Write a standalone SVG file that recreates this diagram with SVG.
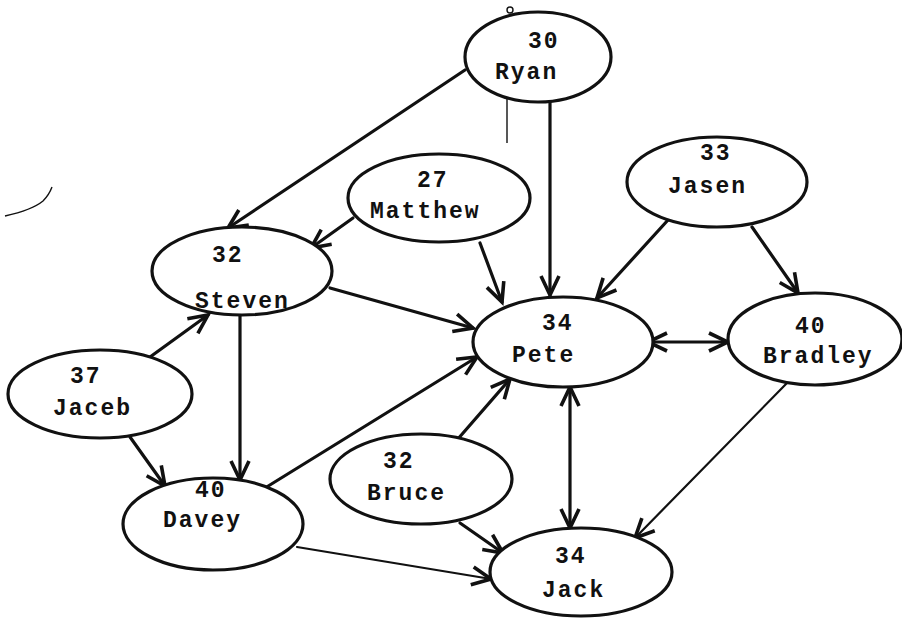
<svg xmlns="http://www.w3.org/2000/svg" width="902" height="620" viewBox="0 0 902 620">
  <style>
    .node ellipse { fill: #fff; stroke: #111; stroke-width: 3.2; }
    .node text { font-family: "Liberation Mono", "DejaVu Sans Mono", monospace; font-weight: bold; font-size: 23px; letter-spacing: 2px; fill: #111; }
    .edge { fill: none; stroke: #111; stroke-width: 3.2; stroke-linecap: round; }
    .thin { stroke-width: 2.2; }
    .mark { fill: none; stroke: #111; stroke-width: 1.4; }
  </style>
  <defs>
    <marker id="arrow" viewBox="-3 -12 26 24" refX="19" refY="0" markerWidth="26" markerHeight="24" markerUnits="userSpaceOnUse" orient="auto-start-reverse">
      <path d="M0,-9 L19,0 L0,9" fill="none" stroke="#111" stroke-width="3.6" stroke-linejoin="miter"/>
    </marker>
  </defs>
  <rect width="902" height="620" fill="#fff"/>

  <!-- stray pen marks -->
  <path class="mark" d="M5,216 Q32,210 43,201 Q49,195 52,187"/>
  <line class="mark" x1="507" y1="83" x2="507" y2="143" stroke-width="1"/>
  <circle class="mark" cx="510" cy="10" r="3"/>

  <!-- connectors -->
  <g id="edges">
    <line class="edge" x1="465" y1="70" x2="228" y2="228" marker-end="url(#arrow)"/>
    <line class="edge" x1="550" y1="102" x2="550" y2="295" marker-end="url(#arrow)"/>
    <line class="edge" x1="353" y1="218" x2="311" y2="248" marker-end="url(#arrow)"/>
    <line class="edge" x1="480" y1="243" x2="502" y2="302" marker-end="url(#arrow)"/>
    <line class="edge" x1="330" y1="288" x2="473" y2="328" marker-end="url(#arrow)"/>
    <line class="edge" x1="240" y1="315" x2="240" y2="480" marker-end="url(#arrow)"/>
    <line class="edge" x1="150" y1="357" x2="208" y2="315" marker-end="url(#arrow)"/>
    <line class="edge" x1="130" y1="437" x2="165" y2="486" marker-end="url(#arrow)"/>
    <line class="edge" x1="265" y1="488" x2="477" y2="357" marker-end="url(#arrow)"/>
    <line class="edge thin" x1="297" y1="547" x2="491" y2="579" marker-end="url(#arrow)"/>
    <line class="edge" x1="457" y1="440" x2="510" y2="379" marker-end="url(#arrow)"/>
    <line class="edge" x1="460" y1="523" x2="503" y2="553" marker-end="url(#arrow)"/>
    <line class="edge" x1="648" y1="342" x2="728" y2="342" marker-start="url(#arrow)" marker-end="url(#arrow)"/>
    <line class="edge" x1="570" y1="387" x2="570" y2="528" marker-start="url(#arrow)" marker-end="url(#arrow)"/>
    <line class="edge" x1="668" y1="220" x2="597" y2="298" marker-end="url(#arrow)"/>
    <line class="edge" x1="752" y1="227" x2="798" y2="293" marker-end="url(#arrow)"/>
    <line class="edge thin" x1="787" y1="383" x2="635" y2="538" marker-end="url(#arrow)"/>
  </g>

  <!-- people -->
  <g id="ryan" class="node">
    <ellipse cx="538" cy="57" rx="73" ry="45"/>
    <text x="528" y="48">30</text>
    <text x="495" y="79">Ryan</text>
  </g>
  <g id="matthew" class="node">
    <ellipse cx="439" cy="198" rx="91" ry="44"/>
    <text x="417" y="187">27</text>
    <text x="370" y="218">Matthew</text>
  </g>
  <g id="steven" class="node">
    <ellipse cx="242" cy="271" rx="90" ry="44"/>
    <text x="212" y="262">32</text>
    <text x="195" y="308">Steven</text>
  </g>
  <g id="jaceb" class="node">
    <ellipse cx="100" cy="394" rx="92" ry="44"/>
    <text x="70" y="383">37</text>
    <text x="53" y="415">Jaceb</text>
  </g>
  <g id="davey" class="node">
    <ellipse cx="213" cy="524" rx="90" ry="46"/>
    <text x="195" y="497">40</text>
    <text x="163" y="527">Davey</text>
  </g>
  <g id="bruce" class="node">
    <ellipse cx="421" cy="479" rx="91" ry="45"/>
    <text x="383" y="468">32</text>
    <text x="367" y="500">Bruce</text>
  </g>
  <g id="jack" class="node">
    <ellipse cx="581" cy="572" rx="91" ry="44"/>
    <text x="555" y="563">34</text>
    <text x="542" y="597">Jack</text>
  </g>
  <g id="pete" class="node">
    <ellipse cx="563" cy="342" rx="90" ry="45"/>
    <text x="542" y="330">34</text>
    <text x="512" y="362">Pete</text>
  </g>
  <g id="jasen" class="node">
    <ellipse cx="717" cy="182" rx="90" ry="45"/>
    <text x="700" y="160">33</text>
    <text x="668" y="193">Jasen</text>
  </g>
  <g id="bradley" class="node">
    <ellipse cx="815" cy="339" rx="87" ry="46"/>
    <text x="795" y="333">40</text>
    <text x="763" y="363">Bradley</text>
  </g>
</svg>
